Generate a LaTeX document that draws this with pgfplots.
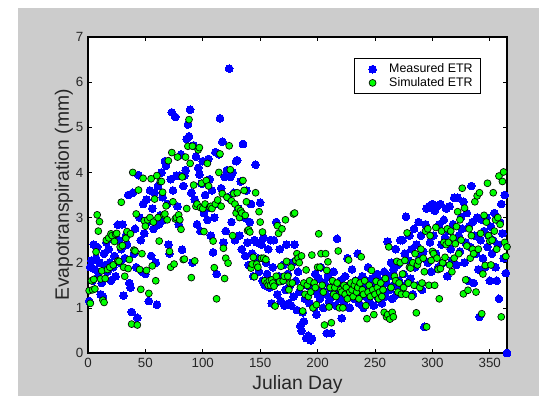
\documentclass[border=0pt]{standalone}
\usepackage{fontspec}
\setmainfont{Liberation Sans}
\usepackage{pgfplots}
\pgfplotsset{compat=1.18}
\definecolor{figbg}{RGB}{204,204,204}
\definecolor{mblue}{RGB}{0,0,255}
\definecolor{mgreen}{RGB}{0,255,0}
\begin{document}
\begin{tikzpicture}
\useasboundingbox (-66pt,-32.25pt) rectangle (338.25pt,264.75pt);
\fill[figbg] (-52.5pt,-32.25pt) rectangle (338.25pt,258.75pt);
\begin{axis}[
  at={(0,0)}, anchor=south west,
  scale only axis,
  width=314.25pt, height=237pt,
  xmin=0, xmax=365, ymin=0, ymax=7,
  xtick={0,50,...,350}, ytick={0,1,...,7},
  xtick pos=both, ytick pos=both,
  xticklabel pos=lower, yticklabel pos=left,
  tick align=inside,
  major tick length=3pt,
  every tick/.style={black, line width=0.5pt},
  axis line style={black, line width=0.8pt},
  axis background/.style={fill=white},
  clip=false,
  /pgf/number format/assume math mode=true,
  ticklabel style={font=\fontsize{10}{11}\selectfont, text=black!85},
  xlabel={Julian Day},
  ylabel={Evapotranspiration (mm)},
  every axis x label/.style={at={(axis description cs:0.5,-0.115)}, anchor=base, font=\fontsize{14.5}{16}\selectfont, text=black!85},
  every axis y label/.style={at={(axis description cs:-0.0573,0.5)}, anchor=center, rotate=90, font=\fontsize{14.5}{16}\selectfont, text=black!85},
  legend style={at={(0.938,0.9335)}, anchor=north east, draw=black, fill=white,
    font=\fontsize{9.3}{10}\selectfont, line width=0.6pt, row sep=-2pt, inner xsep=4pt, inner ysep=2pt},
  legend image code/.code={\path[draw=none] (-9.5pt,0pt) -- (10.5pt,0pt); \draw[#1, draw=none] plot coordinates {(0pt,0pt)};},
  legend cell align=left,
]
\addplot[only marks, mark=*, mark size=2.9pt, mark options={fill=mblue, draw=mblue, line width=0pt}] coordinates {
(1,1.15)(2,1.9)(3,2.05)(4,1.6)(5,2.4)(6,1.85)(7,2.1)(8,2.35)(9,1.7)(10,2.0)(11,1.3)(12,1.55)(13,1.25)(14,2.2)(15,1.95)(16,2.45)(17,1.8)(18,2.3)(19,2.0)(20,1.6)(21,2.55)(22,1.9)(23,2.15)(24,1.7)(26,2.84)(27,2.5)(28,2.0)(29,2.3)(30,2.85)
(31,1.27)(32,2.1)(33,2.6)(34,2.4)(35,3.5)(36,1.55)(37,1.45)(38,0.91)(39,3.55)(40,2.2)(41,2.75)(42,1.9)(43,0.78)(44,3.94)(45,3.0)(46,2.5)(47,1.8)(48,3.3)(49,2.65)(50,1.75)(51,3.4)(52,2.9)(53,1.15)(54,3.6)(55,2.15)(56,3.2)(57,2.75)(58,3.55)(59,2.0)(60,1.07)
(61,3.7)(62,2.85)(63,3.05)(64,4.0)(65,3.45)(66,2.95)(67,4.25)(68,4.15)(69,3.3)(70,2.4)(71,2.2)(72,3.85)(73,5.33)(74,3.6)(76,5.23)(77,3.93)(78,3.25)(79,2.85)(80,3.93)(81,4.4)(82,2.29)(83,3.7)(84,3.93)(85,4.05)(86,4.74)(87,5.06)(88,4.8)(89,5.39)(90,3.55)(91,2.0)
(92,4.6)(93,3.4)(94,4.35)(95,2.85)(96,4.1)(97,3.95)(98,2.7)(99,3.75)(100,4.25)(101,3.1)(102,3.5)(103,3.2)(104,2.95)(105,4.3)(106,3.85)(107,2.6)(108,3.6)(109,2.23)(110,3.0)(111,4.45)(112,1.75)(113,3.3)(114,4.4)(115,5.2)(116,3.65)(117,4.68)(118,2.45)(119,3.9)(120,2.7)(121,4.05)(122,3.45)(123,6.3)(124,3.9)(125,2.9)(126,4.0)(127,3.55)(128,2.5)(129,4.25)(130,4.27)
(131,3.2)(132,2.6)(133,3.8)(134,2.3)(135,4.63)(136,3.0)(137,2.15)(138,3.6)(139,2.45)(140,1.95)(141,2.9)(142,3.3)(143,2.2)(144,1.7)(145,2.5)(146,4.17)(147,2.45)(148,2.1)(149,1.8)(150,3.33)(151,2.4)(152,1.6)(153,2.55)(154,1.5)(155,2.0)(156,1.75)(157,2.3)(158,1.45)(159,2.5)(160,1.1)
(161,1.9)(162,2.5)(163,1.55)(164,2.9)(165,1.3)(166,1.7)(167,2.3)(168,1.15)(169,1.6)(170,1.95)(171,1.05)(172,1.4)(173,2.4)(174,1.75)(175,1.1)(176,1.5)(177,1.05)(178,2.0)(179,1.25)(180,2.4)(181,1.6)(182,0.95)(183,1.8)(184,1.35)(185,0.6)(186,0.49)(187,0.9)(188,0.7)(189,1.2)(190,0.33)(191,1.5)(192,0.38)(193,1.1)(194,0.28)(195,0.32)(196,1.4)(197,1.0)(198,1.75)(199,0.85)(200,1.3)
(201,1.65)(202,1.2)(203,1.9)(204,1.4)(205,1.0)(206,1.55)(207,1.3)(208,0.44)(209,1.7)(210,1.15)(211,1.45)(212,0.44)(213,1.25)(214,1.8)(215,1.35)(216,1.05)(217,2.53)(218,1.5)(219,1.2)(220,1.6)(221,0.77)(222,1.4)(223,1.1)(224,1.7)(225,1.3)(226,2.1)(227,1.5)(228,1.0)(229,1.25)(230,1.85)(231,1.45)(232,1.2)(233,1.6)(234,1.35)(235,2.2)(236,1.1)(237,1.55)(238,1.3)(239,1.7)(240,1.0)(241,1.45)(242,1.25)(243,1.6)(244,1.9)(245,1.15)(246,1.4)(247,1.3)(248,1.65)(249,1.05)(250,1.5)(251,1.3)(252,1.75)(253,1.2)(254,1.45)(255,1.6)(256,1.1)(257,1.35)(258,1.8)(259,1.25)(260,1.55)
(261,2.47)(262,1.7)(263,1.4)(264,2.0)(265,1.2)(266,1.85)(267,1.5)(268,2.3)(269,1.3)(270,1.95)(271,1.6)(272,2.5)(273,1.4)(274,2.5)(275,1.75)(276,2.2)(277,3.02)(278,1.55)(279,2.05)(280,2.6)(281,1.65)(282,2.3)(283,1.3)(284,2.75)(285,1.9)(286,2.4)(287,1.5)(288,2.9)(289,2.1)(290,2.6)(291,1.4)(292,2.25)(293,0.58)(294,2.85)(295,3.2)(296,2.0)(297,3.25)(298,2.45)(299,1.8)(300,3.3)
(301,2.6)(302,3.15)(303,2.2)(304,3.25)(305,1.9)(306,2.85)(307,3.3)(308,2.4)(309,2.0)(310,2.95)(311,2.55)(312,3.2)(313,1.7)(314,2.7)(315,3.25)(316,2.3)(317,2.05)(318,2.85)(319,3.44)(320,2.5)(321,1.95)(322,3.44)(323,2.6)(324,2.25)(325,3.0)(326,2.75)(327,3.35)(328,2.0)(329,2.45)(330,3.1)(331,1.6)(332,2.8)(333,2.35)(334,3.7)(335,2.9)(336,1.55)(337,2.6)(338,2.2)(339,3.0)(340,1.85)(341,0.8)(342,2.5)(343,2.95)(344,2.1)(345,2.7)(346,1.9)(347,3.0)(348,2.35)(349,2.6)(350,1.6)(351,2.8)(352,2.2)(353,2.5)(354,3.1)(355,1.9)(356,1.6)(357,2.4)(358,1.2)(359,2.9)(360,3.3)(361,2.65)(362,2.1)(363,3.5)(364,1.77)(365,0.0)
};
\addlegendentry{Measured ETR}
\addplot[only marks, mark=*, mark size=2.6pt, mark options={fill=mgreen, draw=black, line width=0.5pt}] coordinates {
(1,1.38)(2,1.1)(3,1.6)(4,1.4)(5,1.63)(6,1.42)(7,2.24)(8,3.06)(9,2.7)(10,2.91)(11,1.64)(12,1.82)(13,1.17)(14,1.12)(15,1.65)(16,2.5)(17,1.85)(18,2.55)(19,1.9)(20,2.64)(21,2.6)(22,1.95)(23,2.47)(24,2.63)(25,2.65)(26,2.04)(27,2.03)(28,2.35)(29,3.34)(30,2.38)
(31,1.9)(32,1.7)(33,2.54)(34,2.69)(35,1.87)(36,2.07)(37,2.64)(38,0.64)(39,4.0)(40,2.28)(41,2.26)(42,3.08)(43,0.62)(44,3.61)(45,1.85)(46,1.41)(47,2.2)(48,3.87)(49,2.93)(50,2.81)(51,1.83)(52,2.95)(53,1.32)(54,3.0)(55,3.86)(56,1.93)(57,2.9)(58,3.41)(59,1.6)(60,3.93)
(61,3.0)(62,2.48)(63,3.8)(64,3.8)(65,3.56)(66,3.06)(67,3.08)(68,3.26)(69,2.95)(70,4.26)(71,2.25)(72,1.9)(73,4.44)(74,3.35)(75,1.97)(76,2.97)(77,3.0)(78,4.34)(79,3.06)(80,2.95)(81,2.74)(82,3.9)(83,2.07)(84,2.08)(85,4.34)(86,3.2)(87,4.58)(88,5.17)(89,4.2)(90,1.67)
(91,4.58)(92,3.72)(93,2.04)(94,3.25)(95,3.3)(96,4.5)(97,4.55)(98,3.22)(99,3.76)(100,3.2)(101,2.69)(102,3.3)(103,3.82)(104,4.2)(105,3.7)(106,3.23)(107,3.25)(108,3.2)(109,2.48)(110,1.89)(111,3.3)(112,1.2)(113,3.39)(114,4.0)(115,4.41)(116,3.25)(117,3.53)(118,2.32)(119,1.65)(120,2.1)(121,3.45)(122,1.99)(123,4.59)(124,4.06)(125,3.37)(126,2.6)(127,3.53)(128,3.3)(129,3.1)(130,3.55)
(131,3.2)(132,3.0)(133,3.15)(134,3.1)(135,3.82)(136,3.6)(137,3.05)(138,3.35)(139,2.71)(140,2.73)(141,2.68)(142,1.88)(143,1.97)(144,2.12)(145,1.69)(146,3.55)(147,1.97)(148,1.9)(149,3.13)(150,2.9)(151,2.1)(152,2.68)(153,2.1)(154,1.6)(155,2.07)(156,1.55)(157,1.5)(158,1.6)(159,1.5)(160,1.62)
(161,1.55)(162,1.48)(163,1.04)(164,1.7)(165,2.82)(166,2.65)(167,1.58)(168,1.92)(169,2.75)(170,1.6)(171,1.7)(172,2.95)(173,2.03)(174,1.7)(175,1.4)(176,1.55)(177,1.9)(178,1.55)(179,3.08)(180,3.1)(181,2.05)(182,2.2)(183,2.1)(184,2.0)(185,1.45)(186,2.15)(187,0.93)(188,1.55)(189,1.3)(190,1.84)(191,1.5)(192,1.25)(193,1.6)(194,1.35)(195,2.17)(196,1.0)(197,1.55)(198,1.45)(199,1.07)(200,1.9)
(201,2.64)(202,1.9)(203,2.2)(204,1.5)(205,1.35)(206,0.62)(207,2.2)(208,1.83)(209,2.02)(210,1.02)(211,1.45)(212,0.67)(213,1.6)(214,1.3)(215,1.45)(216,1.25)(217,1.55)(218,2.26)(219,1.0)(220,1.4)(221,1.35)(222,1.0)(223,1.5)(224,1.3)(225,1.45)(226,1.2)(227,2.06)(228,1.35)(229,1.55)(230,1.4)(231,1.25)(232,1.5)(233,1.6)(234,1.35)(235,1.45)(236,1.2)(237,1.55)(238,2.13)(239,1.4)(240,1.3)(241,1.6)(242,1.05)(243,0.76)(244,1.35)(245,1.5)(246,1.25)(247,1.83)(248,1.4)(249,0.85)(250,1.3)(251,1.59)(252,1.45)(253,1.2)(254,1.35)(255,1.55)(256,1.25)(257,1.4)(258,0.9)(259,1.65)(260,0.8)
(261,0.85)(262,2.35)(263,0.75)(264,1.45)(265,0.9)(266,0.8)(267,1.7)(268,1.6)(269,2.03)(270,1.35)(271,1.55)(272,2.0)(273,1.3)(274,1.75)(275,1.45)(276,2.05)(277,1.3)(278,2.66)(279,1.55)(280,1.9)(281,1.88)(282,1.25)(283,2.0)(284,1.5)(285,2.2)(286,0.89)(287,1.95)(288,2.04)(289,1.45)(290,2.3)(291,1.55)(292,2.1)(293,1.8)(294,2.7)(295,0.58)(296,2.75)(297,1.5)(298,2.6)(299,2.05)(300,2.25)
(301,2.2)(302,1.5)(303,2.78)(304,2.1)(305,1.85)(306,1.2)(307,1.87)(308,2.7)(309,2.0)(310,2.45)(311,2.12)(312,2.4)(313,2.75)(314,2.45)(315,1.95)(316,2.7)(317,1.8)(318,2.55)(319,2.1)(320,2.42)(321,2.8)(322,3.13)(323,2.2)(324,2.95)(325,2.5)(326,3.65)(327,1.31)(328,3.21)(329,1.62)(330,2.37)(331,1.39)(332,2.75)(333,2.1)(334,2.6)(335,2.3)(336,2.2)(337,3.35)(338,1.35)(339,3.48)(340,2.3)(341,3.55)(342,2.65)(343,0.87)(344,1.75)(345,3.05)(346,1.94)(347,2.9)(348,3.76)(349,2.6)(350,2.48)(351,1.95)(352,2.5)(353,3.55)(354,2.7)(355,2.95)(356,2.3)(357,3.0)(358,3.92)(359,2.85)(360,0.8)(361,3.8)(362,4.01)(363,2.45)(364,2.14)(365,2.35)
};
\addlegendentry{Simulated ETR}
\end{axis}
\end{tikzpicture}
\end{document}
